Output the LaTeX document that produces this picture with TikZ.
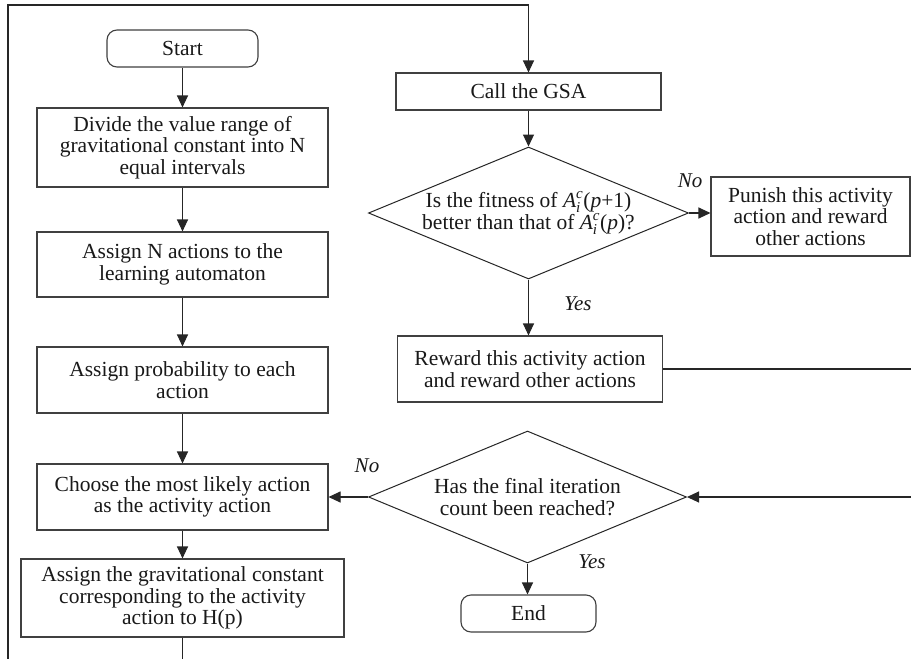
\documentclass[tikz,border=0pt]{standalone}
\usepackage{fontspec}
\usepackage{amsmath}
\setmainfont{Liberation Serif}
\usetikzlibrary{shapes.geometric,arrows.meta}
\begin{document}
\begin{tikzpicture}[x=1pt,y=-1pt,
  every node/.style={font=\fontsize{21.5}{21.7}\selectfont, text=black!90},
  proc/.style={draw=black!75, line width=1.1pt, align=center, inner sep=1pt, minimum width=291pt},
  term/.style={draw=black!75, line width=1.1pt, rounded corners=10pt, minimum height=37pt},
  dec/.style={draw=black!85, line width=1pt, diamond, aspect=2.42, inner sep=0pt, minimum width=320pt, minimum height=132pt},
  lbl/.style={font=\fontsize{21}{21}\selectfont\itshape},
  flow/.style={draw=black!85, line width=1.1pt, -{Triangle[length=12pt,width=11pt]}},
  plain/.style={draw=black!85, line width=1.1pt}
]
\path[fill=white] (0,0) rectangle (911,659);
\useasboundingbox (0,0) rectangle (911,659);

% left column
\node[term, minimum width=151pt] (start) at (182.5,48.5) {Start};
\node[proc, minimum height=79pt] (divide) at (182.5,147.5) {Divide the value range of\\gravitational constant into N\\equal intervals};
\node[proc, minimum height=65pt] (assignN) at (182.5,264.5) {Assign N actions to the\\learning automaton};
\node[proc, minimum height=66pt] (prob) at (182.5,380) {Assign probability to each\\action};
\node[proc, minimum height=66pt] (choose) at (182.5,497) {Choose the most likely action\\as the activity action};
\node[proc, minimum width=323pt, minimum height=78pt] (grav) at (182.5,598) {Assign the gravitational constant\\corresponding to the activity\\action to H(p)};

% right column
\node[proc, minimum width=265pt, minimum height=37pt] (gsa) at (528.5,91.5) {Call the GSA};
\node[dec] (d1) at (528.5,213) {};
\node[align=center] (d1t) at (d1.center) {Is the fitness of $\textit{A}^{\textit{c}}_{\textit{i}}$(\textit{p}+1)\\better than that of $\textit{A}^{\textit{c}}_{\textit{i}}$(\textit{p})?};
\node[proc, minimum width=199pt, minimum height=79pt] (punish) at (810.5,216.5) {Punish this activity\\action and reward\\other actions};
\node[proc, minimum width=265pt, minimum height=66pt] (reward) at (530,369) {Reward this activity action\\and reward other actions};
\node[dec, minimum width=318pt] (d2) at (527.5,497) {};
\node[align=center] (d2t) at (d2.center) {Has the final iteration\\count been reached?};
\node[term, minimum width=135pt] (end) at (528.5,613.5) {End};

% labels
\node[lbl] (no1) at (690,181) {No};
\node[lbl] (yes1) at (578,304) {Yes};
\node[lbl] (no2) at (367,466) {No};
\node[lbl] (yes2) at (592,562) {Yes};

% helper coordinates at the picture edges
\coordinate (b1) at (182.5,659);
\coordinate (b2) at (8,659);
\coordinate (tl) at (8,5);
\coordinate (r1) at (911,369);
\coordinate (r2) at (911,497);

% connectors
\draw[flow] (start) -- (divide);
\draw[flow] (divide) -- (assignN);
\draw[flow] (assignN) -- (prob);
\draw[flow] (prob) -- (choose);
\draw[flow] (choose) -- (grav);
\draw[plain] (grav) -- (b1);
\draw[flow] (b2) -- (tl) -| (gsa.north);
\draw[flow] (gsa) -- (d1.north);
\draw[flow] (d1.east) -- (punish.west |- d1.east);
\draw[flow] (d1.south) -- (reward.north -| d1.south);
\draw[plain] (reward.east) -- (r1);
\draw[flow] (r2) -- (d2.east);
\draw[flow] (d2.west) -- (choose.east |- d2.west);
\draw[flow] (d2.south) -- (end.north -| d2.south);
\end{tikzpicture}
\end{document}
